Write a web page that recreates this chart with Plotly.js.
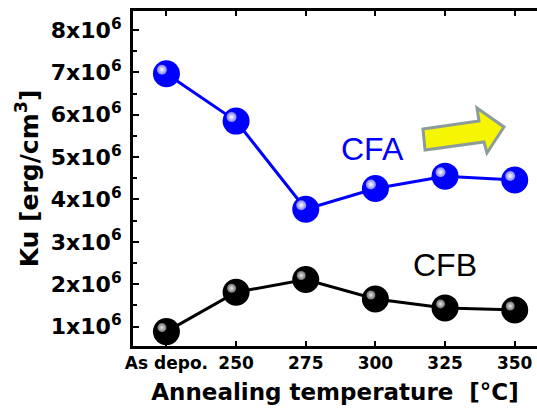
<!DOCTYPE html>
<html>
<head>
<meta charset="utf-8">
<script src="https://cdn.plot.ly/plotly-3.0.1.min.js"></script>
<style>html,body{margin:0;padding:0;background:#fff;}#chart{width:537px;height:408px;}</style>
</head>
<body>
<div id="chart"></div>
<script>
// Data
const categories = ["As depo.", "250", "275", "300", "325", "350"];
const cfaValues = [6.97e6, 5.85e6, 3.77e6, 4.26e6, 4.55e6, 4.46e6];
const cfbValues = [0.88e6, 1.81e6, 2.11e6, 1.65e6, 1.44e6, 1.39e6];
const yTickVals = [1e6, 2e6, 3e6, 4e6, 5e6, 6e6, 7e6, 8e6];
const yTickText = ["1x10<sup>6</sup>", "2x10<sup>6</sup>", "3x10<sup>6</sup>", "4x10<sup>6</sup>",
                   "5x10<sup>6</sup>", "6x10<sup>6</sup>", "7x10<sup>6</sup>", "8x10<sup>6</sup>"];

const xRange = [-0.48, 5.32];
const yRange = [0.54e6, 8.45e6];
// highlight offset (pixels -> data units) for sphere shine
const dxPix = 4.5, dyPix = 4;
const plotW = 404, plotH = 335;
const dx = dxPix * (xRange[1] - xRange[0]) / plotW;
const dy = dyPix * (yRange[1] - yRange[0]) / plotH;

const boldFont = {family: "DejaVu Sans", weight: "bold", color: "#000"};

const traces = [
  {x: categories, y: cfaValues, type: "scatter", mode: "lines+markers",
   line: {color: "#0000ff", width: 3},
   marker: {color: "#0000ff", size: 27, line: {width: 0}}, hoverinfo: "skip"},
  {x: categories, y: cfbValues, type: "scatter", mode: "lines+markers",
   line: {color: "#000000", width: 3},
   marker: {color: "#000000", size: 27, line: {width: 0}}, hoverinfo: "skip"},
  // sphere highlights
  {x: categories, y: cfaValues, type: "scatter", mode: "markers", xaxis: "x2", yaxis: "y2",
   marker: {color: "#7f7fff", size: 10, line: {width: 0}, gradient: {type: "radial", color: "#ffffff"}}, hoverinfo: "skip"},
  {x: categories, y: cfbValues, type: "scatter", mode: "markers", xaxis: "x2", yaxis: "y2",
   marker: {color: "#707070", size: 9, line: {width: 0}, gradient: {type: "radial", color: "#e8e8e8"}}, hoverinfo: "skip"}
];

function px(x) { return (x - 133) / plotW; }
function py(y) { return (346 - y) / plotH; }
const arrowPts = [[423,129],[479,121],[477,108],[504,127],[487,153],[484,142],[425,150]];
const arrowPath = "M" + arrowPts.map(p => px(p[0]).toFixed(4) + "," + py(p[1]).toFixed(4)).join(" L") + " Z";

const layout = {
  width: 537, height: 408,
  margin: {l: 133, r: 0, t: 11, b: 62},
  paper_bgcolor: "#fff", plot_bgcolor: "#fff",
  showlegend: false,
  xaxis: {
    type: "category", categoryarray: categories, range: xRange,
    showgrid: false, zeroline: false,
    showline: true, linecolor: "#000", linewidth: 3, mirror: "ticks",
    ticks: "inside", ticklen: 5, tickwidth: 2, tickcolor: "#000",
    tickfont: Object.assign({size: 17}, boldFont),
    title: {text: "Annealing temperature  [°C]", font: Object.assign({size: 23}, boldFont), standoff: 12}
  },
  yaxis: {
    range: yRange, tickvals: yTickVals, ticktext: yTickText,
    showgrid: false, zeroline: false,
    showline: true, linecolor: "#000", linewidth: 3, mirror: false,
    ticks: "inside", ticklen: 6, tickwidth: 2, tickcolor: "#000",
    minor: {ticks: "inside", dtick: 500000, tick0: 0, ticklen: 4, tickwidth: 2, tickcolor: "#000"},
    tickfont: Object.assign({size: 22}, boldFont),
    ticklabelstandoff: 4,
    title: {text: "Ku [erg/cm<sup>3</sup>]", font: Object.assign({size: 25}, boldFont), standoff: 6}
  },
  xaxis2: {type: "category", categoryarray: categories, overlaying: "x", range: [xRange[0] + dx, xRange[1] + dx], visible: false},
  yaxis2: {overlaying: "y", range: [yRange[0] - dy, yRange[1] - dy], visible: false},
  annotations: [
    {text: "CFA", xref: "x", yref: "y", x: 2.96, y: 5.2e6, showarrow: false,
     font: {family: "Liberation Sans", size: 32, color: "#0000ff"}},
    {text: "CFB", xref: "x", yref: "y", x: 4.0, y: 2.45e6, showarrow: false,
     font: {family: "Liberation Sans", size: 32, color: "#000"}}
  ],
  shapes: [
    {type: "path", xref: "paper", yref: "paper", path: arrowPath,
     fillcolor: "#f6f600", line: {color: "#8c9c9c", width: 3}}
  ]
};

Plotly.newPlot("chart", traces, layout, {displayModeBar: false, staticPlot: true});
</script>
</body>
</html>
